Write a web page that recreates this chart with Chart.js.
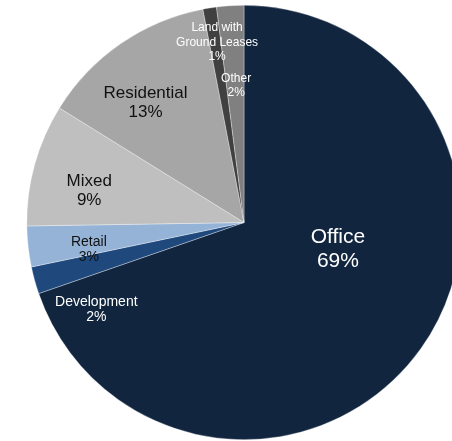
<!DOCTYPE html>
<html>
<head>
<meta charset="utf-8">
<script src="https://cdn.jsdelivr.net/npm/chart.js@4/dist/chart.umd.min.js"></script>
<style>
  html, body { margin: 0; padding: 0; background: #ffffff; overflow: hidden; }
  body { width: 452px; height: 441px; }
  canvas { display: block; }
</style>
</head>
<body>
<canvas id="pie" width="488" height="441"></canvas>
<script>
// Portfolio mix by property type (percent of total)
const categories = ["Office", "Development", "Retail", "Mixed", "Residential", "Land with Ground Leases", "Other"];
const shares = [69, 2, 3, 9, 13, 1, 2];
// Label text per slice (line breaks as drawn)
const labelLines = [
  ["Office"],
  ["Development"],
  ["Retail"],
  ["Mixed"],
  ["Residential"],
  ["Land with", "Ground Leases"],
  ["Other"]
];

// Styling
const sliceColors = ["#11253f", "#1f497d", "#95b3d7", "#bfbfbf", "#a6a6a6", "#404040", "#808080"];
const labelColors = ["#ffffff", "#ffffff", "#111111", "#111111", "#111111", "#ffffff", "#ffffff"];
const labelSizes = [21, 14, 14, 17, 17, 12, 12];
const lineGaps = [24, 15, 15.5, 19, 19.5, 14.5, 13.5];
// Label anchor in polar terms: angle (degrees, clockwise from 3 o'clock) and fraction of radius
const labelAngles = [16.0, 149.4, 170.1, 191.7, 230.5, 261.5, 266.7];
const labelRadii = [0.45, 0.79, 0.725, 0.728, 0.713, 0.838, 0.63];

const sliceLabels = {
  id: "sliceLabels",
  afterDatasetsDraw(chart) {
    const ctx = chart.ctx;
    const meta = chart.getDatasetMeta(0);
    ctx.save();
    ctx.textAlign = "center";
    ctx.textBaseline = "middle";
    meta.data.forEach((arc, i) => {
      const lines = labelLines[i].concat([shares[i] + "%"]);
      const a = labelAngles[i] * Math.PI / 180;
      const r = arc.outerRadius * labelRadii[i];
      const cx = arc.x + r * Math.cos(a);
      const cy = arc.y + r * Math.sin(a);
      const gap = lineGaps[i];
      const top = cy - gap * (lines.length - 1) / 2;
      ctx.fillStyle = labelColors[i];
      ctx.font = labelSizes[i] + 'px "Liberation Sans", Arial, sans-serif';
      lines.forEach((t, k) => ctx.fillText(t, cx, top + k * gap));
    });
    ctx.restore();
  }
};

new Chart(document.getElementById("pie"), {
  type: "pie",
  data: {
    labels: categories,
    datasets: [{
      data: shares,
      backgroundColor: sliceColors,
      borderColor: "rgba(255,255,255,0.55)",
      borderWidth: 0.6
    }]
  },
  options: {
    responsive: false,
    animation: false,
    devicePixelRatio: 1,
    layout: { padding: { top: 5, bottom: 1, left: 0, right: 0 } },
    plugins: {
      legend: { display: false },
      tooltip: { enabled: false }
    }
  },
  plugins: [sliceLabels]
});
</script>
</body>
</html>
